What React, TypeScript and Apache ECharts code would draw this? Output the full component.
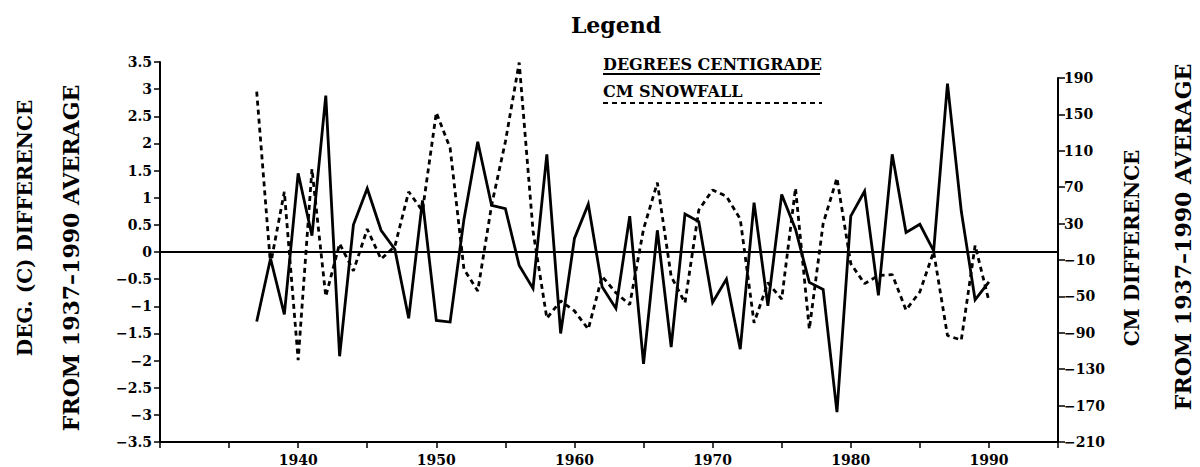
import React, { useEffect, useRef } from "react";
import * as echarts from "echarts";

const years = [
  1937, 1938, 1939, 1940, 1941, 1942, 1943, 1944, 1945, 1946,
  1947, 1948, 1949, 1950, 1951, 1952, 1953, 1954, 1955, 1956,
  1957, 1958, 1959, 1960, 1961, 1962, 1963, 1964, 1965, 1966,
  1967, 1968, 1969, 1970, 1971, 1972, 1973, 1974, 1975, 1976,
  1977, 1978, 1979, 1980, 1981, 1982, 1983, 1984, 1985, 1986,
  1987, 1988, 1989, 1990,
];

const degreesC = [
  -1.28, -0.12, -1.15, 1.45, 0.3, 2.88, -1.92, 0.5, 1.17, 0.4,
  0.05, -1.22, 0.95, -1.26, -1.29, 0.6, 2.03, 0.86, 0.8, -0.25,
  -0.67, 1.8, -1.5, 0.25, 0.88, -0.64, -1.04, 0.66, -2.06, 0.4,
  -1.75, 0.7, 0.56, -0.93, -0.5, -1.79, 0.91, -0.99, 1.06, 0.42,
  -0.56, -0.69, -2.95, 0.66, 1.12, -0.8, 1.8, 0.36, 0.51, 0.02,
  3.1, 0.75, -0.88, -0.55,
];

const snowCm = [
  175, -15, 65, -120, 90, -50, 8, -22, 24, -9,
  5, 65, 44, 152, 113, -20, -44, 50, 120, 207,
  22, -74, -55, -66, -86, -28, -46, -59, 24, 75,
  -28, -57, 45, 67, 60, 35, -79, -35, -53, 69,
  -86, 30, 80, -14, -36, -27, -26, -65, -45, -1,
  -93, -98, 6, -55,
];

const decadeLabels = [1940, 1950, 1960, 1970, 1980, 1990];

const titleText = "Legend";
const tempLegend = "DEGREES CENTIGRADE";
const snowLegend = "CM SNOWFALL";
const leftTitle1 = "DEG. (C) DIFFERENCE";
const leftTitle2 = "FROM 1937\u20131990 AVERAGE";
const rightTitle1 = "CM DIFFERENCE";
const rightTitle2 = "FROM 1937\u20131990 AVERAGE";

const FONT = "DejaVu Serif, serif";

function fmtNum(v: number): string {
  return (v < 0 ? "\u2212" : "") + String(Math.abs(v));
}

export default function App() {
  const ref = useRef<HTMLDivElement>(null);

  useEffect(() => {
    if (!ref.current) return;
    const chart = echarts.init(ref.current, undefined, { renderer: "svg" });

    const axisLabelStyle = {
      color: "#000",
      fontFamily: "DejaVu Serif",
      fontWeight: "bold",
      fontSize: 14,
    };

    const titleStyle = (text: string, size: number) => ({
      text,
      fill: "#000",
      font: `bold ${size}px ${FONT}`,
      textAlign: "center",
      textVerticalAlign: "middle",
    });

    const option: any = {
      animation: false,
      backgroundColor: "#fff",
      textStyle: { fontFamily: "DejaVu Serif", fontWeight: "bold", color: "#000" },
      grid: [
        { left: 160, top: 62, width: 898, height: 380 },
        { left: 160, top: 78, width: 898, height: 364 },
      ],
      xAxis: [
        {
          type: "value",
          gridIndex: 0,
          min: 1930,
          max: 1995,
          interval: 5,
          axisLine: { show: true, onZero: false, lineStyle: { color: "#000", width: 2 } },
          axisTick: { show: true, length: 6, lineStyle: { color: "#000", width: 1.5 } },
          splitLine: { show: false },
          axisLabel: {
            ...axisLabelStyle,
            margin: 11,
            formatter: (v: number) => (decadeLabels.indexOf(v) >= 0 ? String(v) : ""),
          },
        },
        {
          type: "value",
          gridIndex: 1,
          min: 1930,
          max: 1995,
          show: false,
        },
      ],
      yAxis: [
        {
          type: "value",
          gridIndex: 0,
          position: "left",
          min: -3.5,
          max: 3.5,
          interval: 0.5,
          axisLine: { show: true, onZero: false, lineStyle: { color: "#000", width: 2 } },
          axisTick: { show: true, length: 6, lineStyle: { color: "#000", width: 1.5 } },
          splitLine: { show: false },
          axisLabel: { ...axisLabelStyle, margin: 8, formatter: fmtNum },
        },
        {
          type: "value",
          gridIndex: 1,
          position: "right",
          min: -210,
          max: 190,
          interval: 40,
          axisLine: { show: true, onZero: false, lineStyle: { color: "#000", width: 2 } },
          axisTick: { show: true, length: 7, lineStyle: { color: "#000", width: 1.5 } },
          splitLine: { show: false },
          axisLabel: { ...axisLabelStyle, margin: 6, formatter: fmtNum },
        },
      ],
      series: [
        {
          name: tempLegend,
          type: "line",
          xAxisIndex: 0,
          yAxisIndex: 0,
          data: years.map((y, i) => [y, degreesC[i]]),
          symbol: "none",
          clip: false,
          lineStyle: { color: "#000", width: 2.8, join: "miter" },
          markLine: {
            silent: true,
            symbol: "none",
            label: { show: false },
            lineStyle: { color: "#000", width: 1.8, type: "solid" },
            data: [{ yAxis: 0 }],
          },
        },
        {
          name: snowLegend,
          type: "line",
          xAxisIndex: 1,
          yAxisIndex: 1,
          data: years.map((y, i) => [y, snowCm[i]]),
          symbol: "none",
          clip: false,
          lineStyle: { color: "#000", width: 2.8, type: [5, 4] },
        },
      ],
      graphic: [
        {
          type: "text",
          x: 616,
          y: 25,
          style: {
            text: titleText,
            fill: "#000",
            font: `bold 22px ${FONT}`,
            textAlign: "center",
            textVerticalAlign: "middle",
          },
        },
        {
          type: "text",
          x: 603,
          y: 64,
          style: {
            text: tempLegend,
            fill: "#000",
            font: `bold 16px ${FONT}`,
            textAlign: "left",
            textVerticalAlign: "middle",
          },
        },
        {
          type: "line",
          shape: { x1: 603, y1: 74, x2: 820, y2: 74 },
          style: { stroke: "#000", lineWidth: 2 },
        },
        {
          type: "text",
          x: 603,
          y: 91,
          style: {
            text: snowLegend,
            fill: "#000",
            font: `bold 16px ${FONT}`,
            textAlign: "left",
            textVerticalAlign: "middle",
          },
        },
        {
          type: "line",
          shape: { x1: 603, y1: 103, x2: 822, y2: 103 },
          style: { stroke: "#000", lineWidth: 2.2, lineDash: [5, 4] },
        },
        { type: "text", x: 25, y: 228, rotation: Math.PI / 2, style: titleStyle(leftTitle1, 20) },
        { type: "text", x: 71, y: 258, rotation: Math.PI / 2, style: titleStyle(leftTitle2, 22) },
        { type: "text", x: 1132, y: 248, rotation: Math.PI / 2, style: titleStyle(rightTitle1, 20) },
        { type: "text", x: 1183, y: 237, rotation: Math.PI / 2, style: titleStyle(rightTitle2, 22) },
      ],
    };

    chart.setOption(option);
    return () => {
      chart.dispose();
    };
  }, []);

  return (
    <div
      ref={ref}
      style={{ position: "fixed", left: 0, top: 0, width: 1200, height: 467, background: "#fff" }}
    />
  );
}
